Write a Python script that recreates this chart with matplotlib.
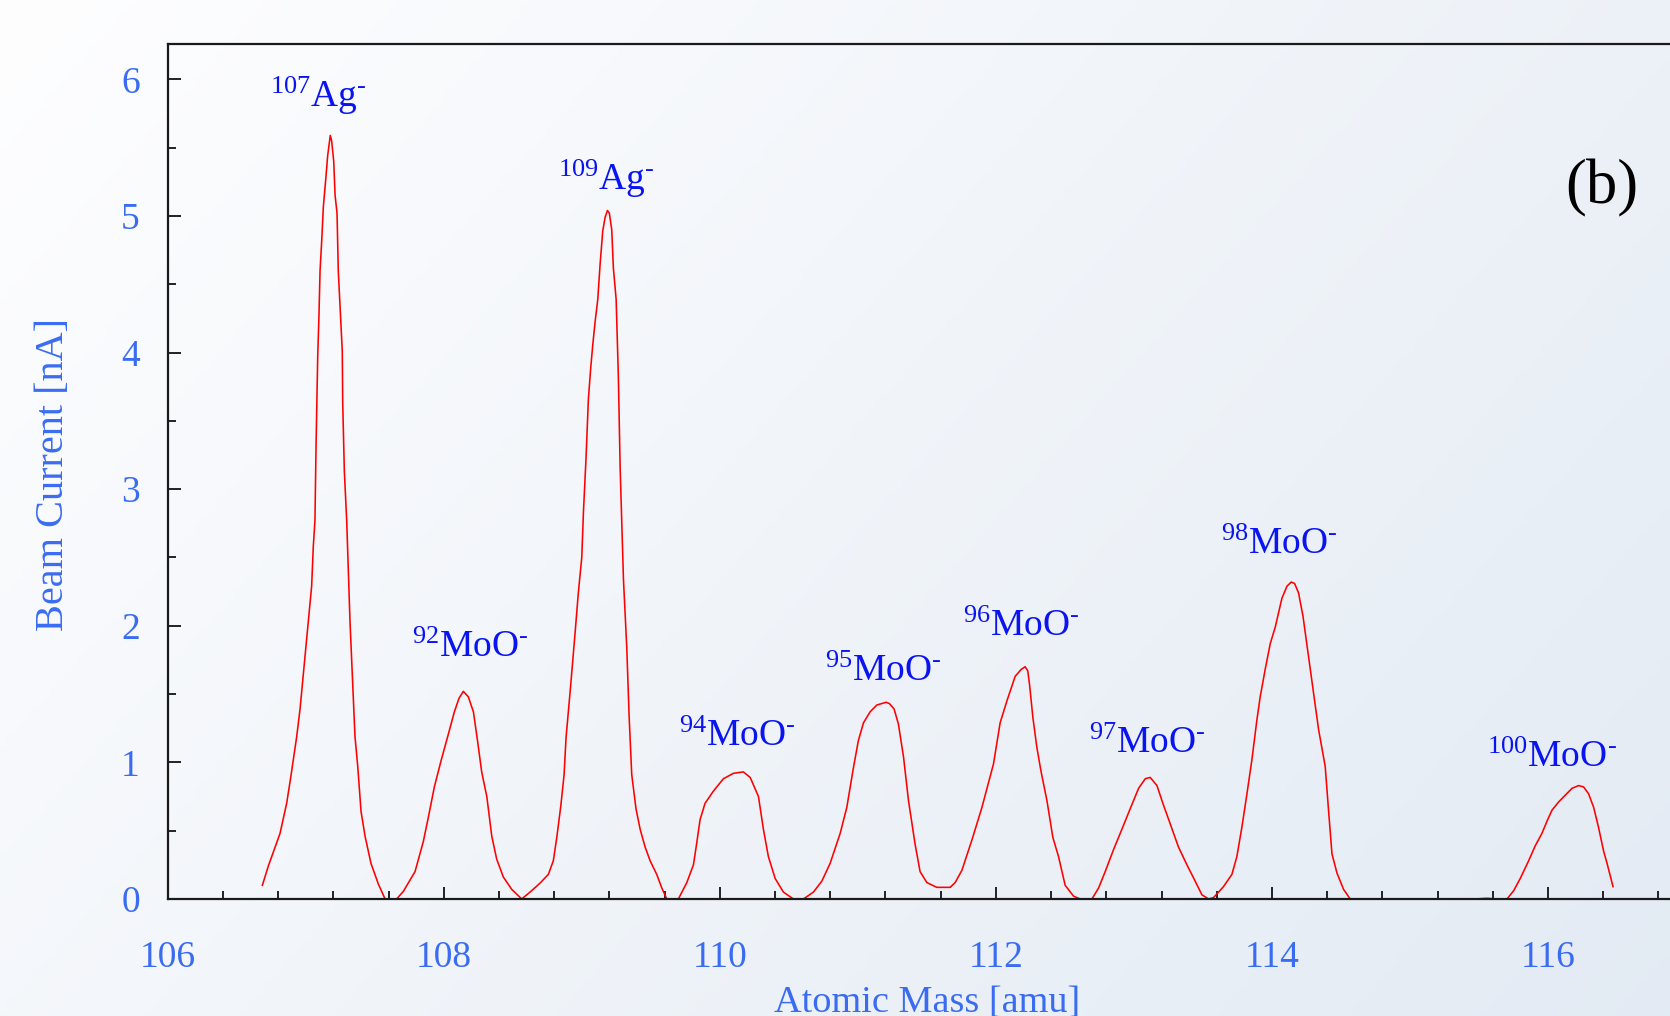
import numpy as np
import matplotlib
matplotlib.use('Agg')
import matplotlib.pyplot as plt
from matplotlib.ticker import MultipleLocator

plt.rcParams['font.family'] = 'Liberation Serif'
plt.rcParams['mathtext.fontset'] = 'custom'
plt.rcParams['mathtext.rm'] = 'Liberation Serif'
plt.rcParams['mathtext.it'] = 'Liberation Serif:italic'
plt.rcParams['mathtext.bf'] = 'Liberation Serif:bold'

# mass scan (negative values sit under the axis)
mass = [
    106.686, 106.729, 106.814, 106.862, 106.893, 106.935, 106.959, 107.019,
    107.043, 107.055, 107.067, 107.075, 107.087, 107.096, 107.104, 107.116,
    107.128, 107.147, 107.159, 107.178, 107.188, 107.203, 107.213, 107.227,
    107.236, 107.265, 107.268, 107.280, 107.297, 107.321, 107.341, 107.357,
    107.377, 107.401, 107.430, 107.473, 107.526, 107.575, 107.615, 107.659,
    107.707, 107.792, 107.852, 107.889, 107.932, 107.980, 108.029, 108.077,
    108.111, 108.142, 108.178, 108.215, 108.246, 108.275, 108.312, 108.348,
    108.384, 108.432, 108.493, 108.565, 108.625, 108.698, 108.758, 108.794,
    108.819, 108.848, 108.872, 108.886, 108.915, 108.951, 108.975, 109.000,
    109.012, 109.031, 109.048, 109.065, 109.080, 109.096, 109.116, 109.133,
    109.152, 109.169, 109.186, 109.200, 109.217, 109.229, 109.249, 109.265,
    109.278, 109.302, 109.326, 109.343, 109.362, 109.393, 109.423, 109.459,
    109.495, 109.543, 109.580, 109.616, 109.655, 109.700, 109.761, 109.809,
    109.833, 109.857, 109.893, 109.954, 110.026, 110.099, 110.171, 110.220,
    110.280, 110.316, 110.352, 110.401, 110.461, 110.533, 110.606, 110.678,
    110.739, 110.799, 110.872, 110.920, 110.968, 111.004, 111.041, 111.089,
    111.138, 111.205, 111.229, 111.263, 111.294, 111.331, 111.367, 111.415,
    111.451, 111.500, 111.572, 111.669, 111.705, 111.754, 111.826, 111.899,
    111.983, 112.031, 112.080, 112.140, 112.183, 112.212, 112.231, 112.244,
    112.268, 112.297, 112.326, 112.370, 112.413, 112.454, 112.502, 112.563,
    112.611, 112.696, 112.744, 112.792, 112.852, 112.913, 112.973, 113.034,
    113.082, 113.118, 113.167, 113.210, 113.263, 113.323, 113.384, 113.444,
    113.493, 113.541, 113.577, 113.649, 113.710, 113.746, 113.783, 113.819,
    113.855, 113.891, 113.915, 113.951, 113.988, 114.024, 114.072, 114.109,
    114.140, 114.164, 114.193, 114.225, 114.266, 114.302, 114.338, 114.386,
    114.410, 114.435, 114.471, 114.519, 114.567, 114.800, 115.200, 115.473,
    115.558, 115.620, 115.703, 115.751, 115.799, 115.860, 115.908, 115.956,
    115.993, 116.029, 116.077, 116.125, 116.174, 116.222, 116.258, 116.294,
    116.331, 116.367, 116.403, 116.428, 116.471,
]
current = [
    0.10, 0.24, 0.48, 0.70, 0.90, 1.19, 1.39, 2.03,
    2.29, 2.58, 2.77, 3.32, 3.97, 4.27, 4.60, 4.82,
    5.07, 5.29, 5.44, 5.59, 5.55, 5.40, 5.15, 5.02,
    4.60, 4.01, 3.64, 3.13, 2.77, 2.03, 1.56, 1.19,
    0.97, 0.64, 0.46, 0.26, 0.11, 0.00, -0.05, 0.00,
    0.055, 0.20, 0.42, 0.60, 0.82, 1.01, 1.19, 1.37,
    1.47, 1.52, 1.48, 1.37, 1.15, 0.93, 0.75, 0.46,
    0.29, 0.16, 0.07, 0.00, 0.05, 0.116, 0.18, 0.28,
    0.45, 0.68, 0.91, 1.18, 1.51, 1.94, 2.24, 2.50,
    2.83, 3.23, 3.66, 3.89, 4.06, 4.22, 4.39, 4.65,
    4.89, 4.99, 5.04, 5.02, 4.90, 4.62, 4.39, 3.83,
    3.16, 2.34, 1.84, 1.34, 0.91, 0.66, 0.51, 0.38,
    0.28, 0.18, 0.08, 0.00, -0.05, 0.00, 0.12, 0.25,
    0.41, 0.58, 0.70, 0.79, 0.88, 0.92, 0.93, 0.89,
    0.75, 0.51, 0.31, 0.15, 0.05, 0.00, 0.00, 0.05,
    0.13, 0.26, 0.48, 0.67, 0.96, 1.16, 1.29, 1.37,
    1.42, 1.44, 1.43, 1.39, 1.28, 1.04, 0.72, 0.40,
    0.20, 0.12, 0.085, 0.085, 0.12, 0.21, 0.43, 0.67,
    0.99, 1.29, 1.45, 1.63, 1.68, 1.70, 1.67, 1.57,
    1.33, 1.11, 0.94, 0.72, 0.45, 0.31, 0.10, 0.02,
    0.00, 0.00, 0.08, 0.20, 0.36, 0.51, 0.66, 0.81,
    0.88, 0.89, 0.83, 0.70, 0.55, 0.38, 0.25, 0.13,
    0.03, 0.00, 0.01, 0.09, 0.18, 0.31, 0.53, 0.77,
    1.02, 1.31, 1.48, 1.68, 1.87, 1.99, 2.20, 2.29,
    2.32, 2.31, 2.24, 2.07, 1.77, 1.51, 1.24, 0.97,
    0.65, 0.33, 0.19, 0.07, 0.00, -0.05, -0.05, 0.00,
    0.005, 0.00, 0.00, 0.06, 0.15, 0.28, 0.39, 0.48,
    0.57, 0.65, 0.71, 0.76, 0.81, 0.83, 0.82, 0.77,
    0.67, 0.52, 0.35, 0.26, 0.09,
]

isotopes = ['107', '92', '109', '94', '95', '96', '97', '98', '100']
species = ['Ag', 'MoO', 'Ag', 'MoO', 'MoO', 'MoO', 'MoO', 'MoO', 'MoO']
# where each label starts (left edge, baseline) in data units
label_x = [106.740, 107.770, 108.828, 109.702, 110.760, 111.762, 112.673, 113.630, 115.560]
label_y = [5.796, 1.774, 5.193, 1.12, 1.598, 1.925, 1.067, 2.526, 0.969]

tick_blue = '#3a6cf2'
label_blue = '#0a14f0'

fig = plt.figure(figsize=(16.7, 10.16), dpi=100)

# soft background gradient
bg = fig.add_axes([0, 0, 1, 1], zorder=-10)
gx, gy = np.meshgrid(np.linspace(0, 1, 300), np.linspace(0, 1, 200))
t = np.clip(0.65 * gx + 0.35 * gy, 0, 1)
c0 = np.array([0.996, 0.996, 1.0])
c1 = np.array([0.89, 0.92, 0.955])
img = c0[None, None, :] * (1 - t[..., None]) + c1[None, None, :] * t[..., None]
bg.imshow(img, aspect='auto', extent=[0, 1, 0, 1], origin='upper')
bg.axis('off')

ax = fig.add_axes([0.1004, 0.1152, 0.9092, 0.8412])
ax.set_facecolor('none')
ax.plot(mass, current, color='#ff0000', lw=1.15)

ax.set_xlim(106, 117)
ax.set_ylim(0, 6.257)
ax.xaxis.set_major_locator(MultipleLocator(2))
ax.xaxis.set_minor_locator(MultipleLocator(0.4))
ax.yaxis.set_major_locator(MultipleLocator(1))
ax.yaxis.set_minor_locator(MultipleLocator(0.5))
ax.tick_params(which='both', direction='in', colors='#222222', width=1.4,
               labelcolor=tick_blue, labelsize=27)
ax.tick_params(which='major', length=9)
ax.tick_params(which='minor', length=6)
ax.tick_params(axis='x', pad=30)
ax.tick_params(axis='y', pad=20)
for side in ['left', 'bottom', 'top']:
    ax.spines[side].set_linewidth(1.6)
    ax.spines[side].set_color('#1a1a1a')
ax.spines['right'].set_visible(False)

ax.set_xlabel('Atomic Mass [amu]', fontsize=27.5, color=tick_blue, va='center')
ax.xaxis.set_label_coords(0.5, -0.122)
ax.set_ylabel('Beam Current [nA]', fontsize=29, color=tick_blue, va='center')
ax.yaxis.set_label_coords(-0.0755, 0.497)

for iso, sp, lx, ly in zip(isotopes, species, label_x, label_y):
    ax.text(lx, ly, '$^{%s}$%s$^{\\text{-}}$' % (iso, sp), fontsize=27,
            color=label_blue, ha='left', va='baseline')

ax.text(116.39, 5.205, '(b)', fontsize=45, color='black', ha='center', va='center')

fig.savefig('out.png', dpi=100)
